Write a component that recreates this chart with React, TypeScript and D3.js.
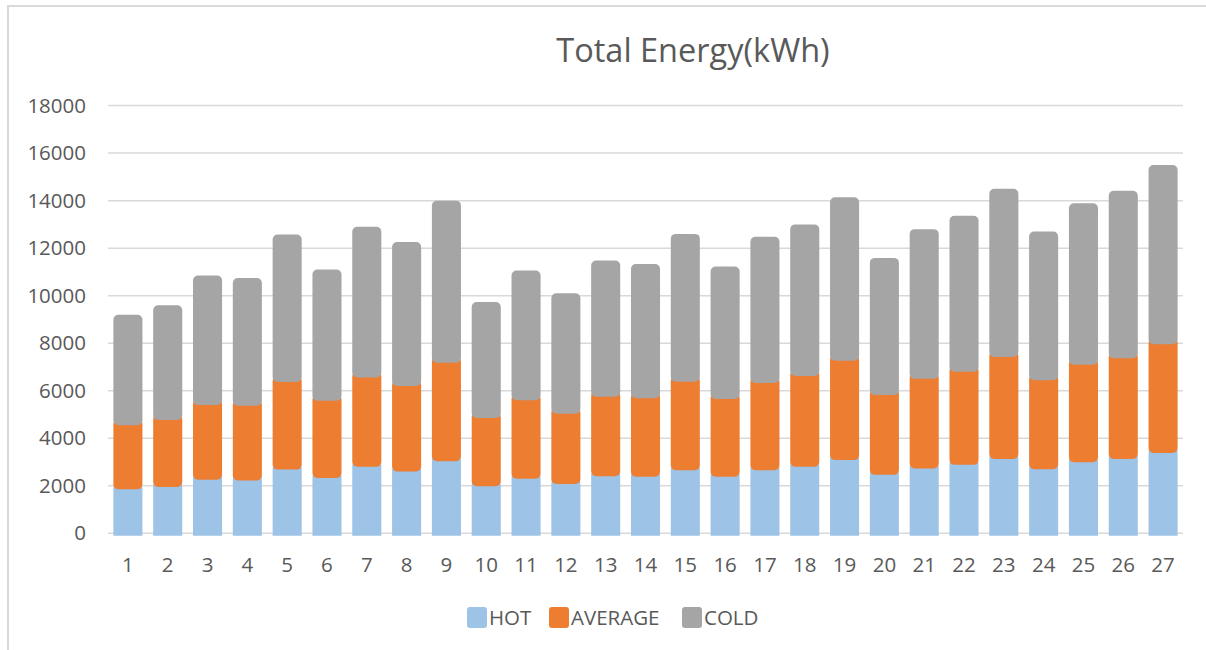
import React from 'react';
import * as d3 from 'd3';

const categories = Array.from({ length: 27 }, (_, i) => String(i + 1));
const hot = [1850, 1950, 2250, 2220, 2680, 2330, 2800, 2600, 3030, 1980, 2300, 2080, 2400, 2380, 2650, 2380, 2650, 2800, 3080, 2460, 2730, 2880, 3130, 2700, 2990, 3130, 3380];
const average = [2700, 2820, 3150, 3150, 3690, 3250, 3760, 3600, 4150, 2870, 3300, 2950, 3350, 3300, 3730, 3270, 3680, 3820, 4180, 3360, 3770, 3920, 4290, 3740, 4100, 4240, 4580];
const cold = [4650, 4830, 5450, 5370, 6200, 5520, 6340, 6060, 6820, 4880, 5460, 5070, 5730, 5650, 6220, 5580, 6150, 6380, 6880, 5770, 6300, 6560, 7080, 6260, 6800, 7050, 7540];
const seriesNames = ['HOT', 'AVERAGE', 'COLD'];
const colors = ['#9DC3E6', '#ED7D31', '#A5A5A5'];
const yTicks = [0, 2000, 4000, 6000, 8000, 10000, 12000, 14000, 16000, 18000];

const W = 1206;
const H = 650;
const margin = { top: 105.6, right: 23, bottom: 116.7, left: 108 };
const font = '"Open Sans", sans-serif';
const textColor = '#595959';

export default function App() {
  const rows = categories.map((c, i) => ({ cat: c, HOT: hot[i], AVERAGE: average[i], COLD: cold[i] }));
  const stacked = d3.stack<any>().keys(seriesNames)(rows);

  const x = d3.scaleBand().domain(categories).range([margin.left, W - margin.right]).paddingInner(0.27).paddingOuter(0.135);
  const y = d3.scaleLinear().domain([0, 18000]).range([H - margin.bottom, margin.top]);
  const y0 = y(0);

  // legend item offsets from the start of the legend
  const legendX = 467;
  const legendOffsets = [0, 82, 215];

  return (
    <svg width={W} height={H} style={{ position: 'absolute', left: 0, top: 0, background: '#fff' }}>
      <defs>
        <clipPath id="plotClip">
          <rect x={0} y={0} width={W} height={y0 + 2.5} />
        </clipPath>
      </defs>
      <rect x={8} y={6} width={W + 20} height={H + 20} fill="#fff" stroke="#d9d9d9" strokeWidth={2} />

      <text x={693} y={62} textAnchor="middle" fontFamily={font} fontSize={32.5} fill={textColor}>
        Total Energy(kWh)
      </text>

      {yTicks.map(t => (
        <g key={t}>
          <line x1={margin.left} x2={W - margin.right} y1={y(t)} y2={y(t)} stroke="#d9d9d9" strokeWidth={1.5} />
          <text x={86} y={y(t)} dy="0.35em" textAnchor="end" fontFamily={font} fontSize={20.5} fill={textColor}>
            {t}
          </text>
        </g>
      ))}

      <g clipPath="url(#plotClip)">
        {stacked.map((s, si) => (
          <g key={s.key} fill={colors[si]}>
            {s.map((d, i) => {
              const top = y(d[1]);
              const ext = si < stacked.length - 1 ? 6 : 0;
              const bottom = si === 0 ? y(d[0]) + 8 : y(d[0]);
              return (
                <rect
                  key={i}
                  x={x(categories[i])}
                  y={top - ext}
                  width={x.bandwidth()}
                  height={bottom - top + ext}
                  rx={5}
                  ry={5}
                />
              );
            })}
          </g>
        ))}
      </g>

      {categories.map(c => (
        <text key={c} x={(x(c) as number) + x.bandwidth() / 2} y={565} dy="0.35em" textAnchor="middle" fontFamily={font} fontSize={20.5} fill={textColor}>
          {c}
        </text>
      ))}

      {seriesNames.map((n, i) => (
        <g key={n} transform={`translate(${legendX + legendOffsets[i]},607)`}>
          <rect x={0} y={0} width={20} height={21} rx={3} fill={colors[i]} />
          <text x={22} y={10.5} dy="0.35em" fontFamily={font} fontSize={20.5} fill={textColor}>
            {n}
          </text>
        </g>
      ))}
    </svg>
  );
}
